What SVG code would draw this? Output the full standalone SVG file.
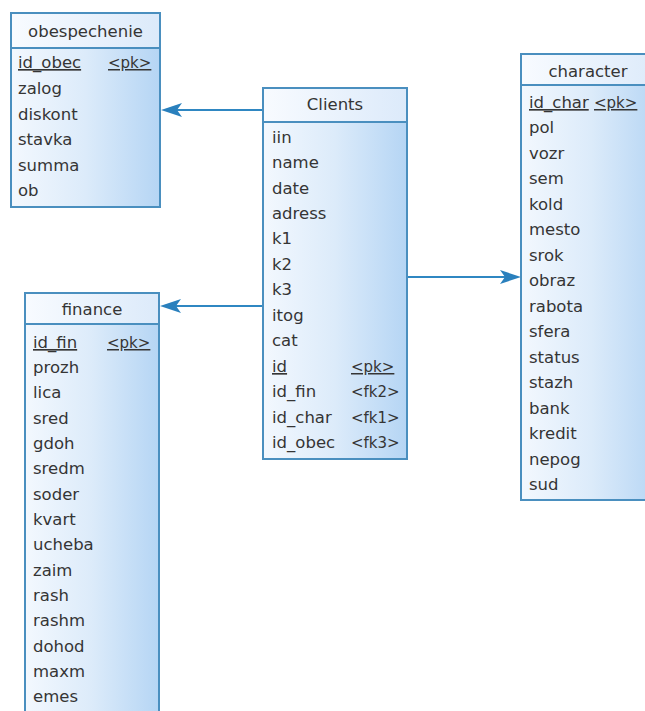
<svg xmlns="http://www.w3.org/2000/svg" width="645" height="711" viewBox="0 0 645 711">
<defs>
<linearGradient id="body" x1="0" y1="0" x2="1" y2="0">
<stop offset="0" stop-color="#f3f8fe"/>
<stop offset="0.5" stop-color="#dcebfa"/>
<stop offset="1" stop-color="#b5d5f4"/>
</linearGradient>
<linearGradient id="head" x1="0" y1="0" x2="1" y2="0">
<stop offset="0" stop-color="#f8fbff"/>
<stop offset="1" stop-color="#dceafa"/>
</linearGradient>
</defs>
<style>
.box{fill:url(#body);stroke:#4a8fbf;stroke-width:2}
.hd{fill:url(#head);stroke:none}
.sep{stroke:#4a8fbf;stroke-width:2}
text{font-family:"DejaVu Sans",Verdana,sans-serif;font-size:16.5px;fill:#353535}
.t{text-anchor:middle}
.u{text-decoration:underline}
.k{font-size:15px}
.c{stroke:#2f87c2;stroke-width:2.2;fill:none}
.ah{fill:#2a80bd}
</style>
<rect width="645" height="711" fill="#ffffff"/>

<g id="connectors">
<line class="c" x1="263" y1="110" x2="175" y2="110"/>
<path class="ah" d="M161,110 L182,103 L177,110 L182,117 Z"/>
<line class="c" x1="263" y1="306" x2="175" y2="306"/>
<path class="ah" d="M160,306 L181,299 L176,306 L181,313 Z"/>
<line class="c" x1="407" y1="277" x2="508" y2="277"/>
<path class="ah" d="M521,277 L500,270 L505,277 L500,284 Z"/>
</g>

<g id="obespechenie">
<rect class="box" x="11" y="13" width="149" height="194"/>
<rect class="hd" x="12" y="14" width="147" height="34"/>
<line class="sep" x1="11" y1="48" x2="160" y2="48"/>
<text class="t" x="85.5" y="37">obespechenie</text>
<text class="u" x="18" y="68">id_obec</text>
<text class="u k" x="108" y="68">&lt;pk&gt;</text>
<text x="18" y="94">zalog</text>
<text x="18" y="120">diskont</text>
<text x="18" y="145">stavka</text>
<text x="18" y="171">summa</text>
<text x="18" y="196">ob</text>
</g>

<g id="clients">
<rect class="box" x="263" y="88" width="144" height="371"/>
<rect class="hd" x="264" y="89" width="142" height="33"/>
<line class="sep" x1="263" y1="122" x2="407" y2="122"/>
<text class="t" x="335" y="110">Clients</text>
<text x="272" y="143">iin</text>
<text x="272" y="168">name</text>
<text x="272" y="194">date</text>
<text x="272" y="219">adress</text>
<text x="272" y="244">k1</text>
<text x="272" y="270">k2</text>
<text x="272" y="295">k3</text>
<text x="272" y="321">itog</text>
<text x="272" y="346">cat</text>
<text class="u" x="272" y="372">id</text>
<text class="u k" x="351" y="372">&lt;pk&gt;</text>
<text x="272" y="397">id_fin</text>
<text class="k" x="351" y="397">&lt;fk2&gt;</text>
<text x="272" y="423">id_char</text>
<text class="k" x="351" y="423">&lt;fk1&gt;</text>
<text x="272" y="448">id_obec</text>
<text class="k" x="351" y="448">&lt;fk3&gt;</text>
</g>

<g id="character">
<rect class="box" x="521" y="54" width="140" height="446"/>
<rect class="hd" x="522" y="55" width="138" height="30"/>
<line class="sep" x1="521" y1="85" x2="661" y2="85"/>
<text class="t" x="588" y="77">character</text>
<text class="u" x="529" y="108">id_char</text>
<text class="u k" x="594" y="108">&lt;pk&gt;</text>
<text x="529" y="133">pol</text>
<text x="529" y="159">vozr</text>
<text x="529" y="184">sem</text>
<text x="529" y="210">kold</text>
<text x="529" y="235">mesto</text>
<text x="529" y="261">srok</text>
<text x="529" y="286">obraz</text>
<text x="529" y="312">rabota</text>
<text x="529" y="337">sfera</text>
<text x="529" y="363">status</text>
<text x="529" y="388">stazh</text>
<text x="529" y="414">bank</text>
<text x="529" y="439">kredit</text>
<text x="529" y="465">nepog</text>
<text x="529" y="490">sud</text>
</g>

<g id="finance">
<rect class="box" x="25" y="293" width="134" height="430"/>
<rect class="hd" x="26" y="294" width="132" height="30"/>
<line class="sep" x1="25" y1="324" x2="159" y2="324"/>
<text class="t" x="92" y="315">finance</text>
<text class="u" x="33" y="348">id_fin</text>
<text class="u k" x="107" y="348">&lt;pk&gt;</text>
<text x="33" y="373">prozh</text>
<text x="33" y="398">lica</text>
<text x="33" y="424">sred</text>
<text x="33" y="449">gdoh</text>
<text x="33" y="474">sredm</text>
<text x="33" y="500">soder</text>
<text x="33" y="525">kvart</text>
<text x="33" y="550">ucheba</text>
<text x="33" y="576">zaim</text>
<text x="33" y="601">rash</text>
<text x="33" y="626">rashm</text>
<text x="33" y="652">dohod</text>
<text x="33" y="677">maxm</text>
<text x="33" y="702">emes</text>
</g>
</svg>
